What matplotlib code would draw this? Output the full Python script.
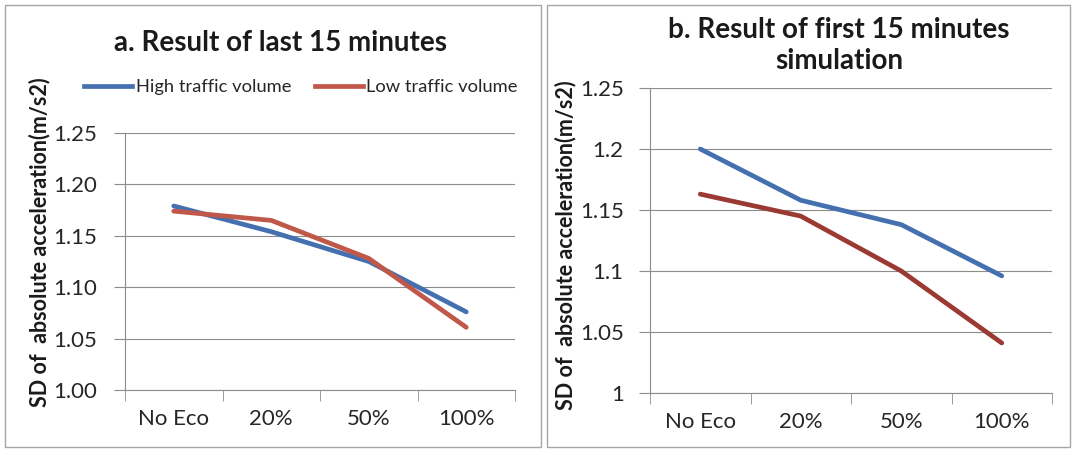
import matplotlib
matplotlib.use('Agg')
import matplotlib.pyplot as plt
from matplotlib.patches import Rectangle
from matplotlib.lines import Line2D

plt.rcParams['font.family'] = ['Lato', 'DejaVu Sans']

# Chart data
categories = ['No Eco', '20%', '50%', '100%']
last15_high = [1.179, 1.154, 1.125, 1.076]
last15_low = [1.174, 1.165, 1.128, 1.061]
first15_high = [1.200, 1.158, 1.138, 1.096]
first15_low = [1.163, 1.145, 1.100, 1.041]
y_ticks = [1.00, 1.05, 1.10, 1.15, 1.20, 1.25]
y_labels_a = ['1.00', '1.05', '1.10', '1.15', '1.20', '1.25']
y_labels_b = ['1', '1.05', '1.1', '1.15', '1.2', '1.25']

BLUE = '#4570b0'
RED_A = '#c0584a'
RED_B = '#9a3a33'
GRID = '#8c8c8c'
LW = 3.4

W, H = 1073, 455
fig = plt.figure(figsize=(W / 100, H / 100), dpi=100)


def px_box(x0, y0, x1, y1):
    # pixel box (top-left origin) -> figure fraction [left, bottom, width, height]
    return [x0 / W, 1 - y1 / H, (x1 - x0) / W, (y1 - y0) / H]


def panel_frame(x0, y0, x1, y1):
    l, b, w, h = px_box(x0, y0, x1, y1)
    fig.patches.append(Rectangle((l, b), w, h, transform=fig.transFigure,
                                 fill=False, edgecolor='#a6a6a6', linewidth=1.0))


def draw_panel(box, high, low, red, ylabels, label_pad):
    ax = fig.add_axes(px_box(*box))
    x = list(range(len(categories)))
    ax.plot(x, high, color=BLUE, linewidth=LW, solid_capstyle='round', zorder=3)
    ax.plot(x, low, color=red, linewidth=LW, solid_capstyle='round', zorder=3)
    ax.set_xlim(-0.5, len(categories) - 0.5)
    ax.set_ylim(y_ticks[0], y_ticks[-1])
    ax.set_yticks(y_ticks)
    ax.set_yticklabels(ylabels)
    ax.set_xticks(x)
    ax.set_xticklabels(categories)
    ax.set_xticks([i - 0.5 for i in range(len(categories) + 1)], minor=True)
    ax.tick_params(axis='x', which='major', length=0, labelsize=16, pad=14, colors='#262626')
    ax.tick_params(axis='x', which='minor', length=8, color=GRID, direction='out')
    ax.tick_params(axis='y', length=8, labelsize=16, pad=label_pad, colors='#262626')
    ax.tick_params(axis='y', color=GRID)
    ax.grid(axis='y', color=GRID, linewidth=0.8)
    ax.set_axisbelow(True)
    for s in ('top', 'right'):
        ax.spines[s].set_visible(False)
    for s in ('left', 'bottom'):
        ax.spines[s].set_color(GRID)
        ax.spines[s].set_linewidth(0.8)
    return ax


# panel a: last 15 minutes
panel_frame(5, 5, 541, 447)
ax_a = draw_panel((125, 133, 515, 390), last15_high, last15_low, RED_A, y_labels_a, 12)
fig.text(281 / W, 1 - 43 / H, 'a. Result of last 15 minutes', ha='center', va='center',
         fontsize=20, fontweight='bold', color='#1a1a1a')
fig.text(40 / W, 1 - 242 / H, 'SD of  absolute acceleration(m/s2)', rotation=90,
         ha='center', va='center', fontsize=15.5, fontweight='bold', color='#1a1a1a')
handles = [Line2D([], [], color=BLUE, linewidth=LW),
           Line2D([], [], color=RED_A, linewidth=LW)]
fig.legend(handles, ['High traffic volume', 'Low traffic volume'], ncol=2,
           loc='center', bbox_to_anchor=(301 / W, 1 - 87 / H), frameon=False,
           fontsize=13.2, handlelength=2.6, handletextpad=0.2, columnspacing=1.3,
           labelcolor='#262626')

# panel b: first 15 minutes
panel_frame(547, 5, 1070, 447)
ax_b = draw_panel((650, 88, 1052, 393), first15_high, first15_low, RED_B, y_labels_b, 11)
fig.text(839 / W, 1 - 30 / H, 'b. Result of first 15 minutes', ha='center', va='center',
         fontsize=20, fontweight='bold', color='#1a1a1a')
fig.text(839 / W, 1 - 61 / H, 'simulation', ha='center', va='center',
         fontsize=20, fontweight='bold', color='#1a1a1a')
fig.text(566 / W, 1 - 245 / H, 'SD of  absolute acceleration(m/s2)', rotation=90,
         ha='center', va='center', fontsize=15.5, fontweight='bold', color='#1a1a1a')

fig.savefig('out.png', dpi=100, facecolor='white')
